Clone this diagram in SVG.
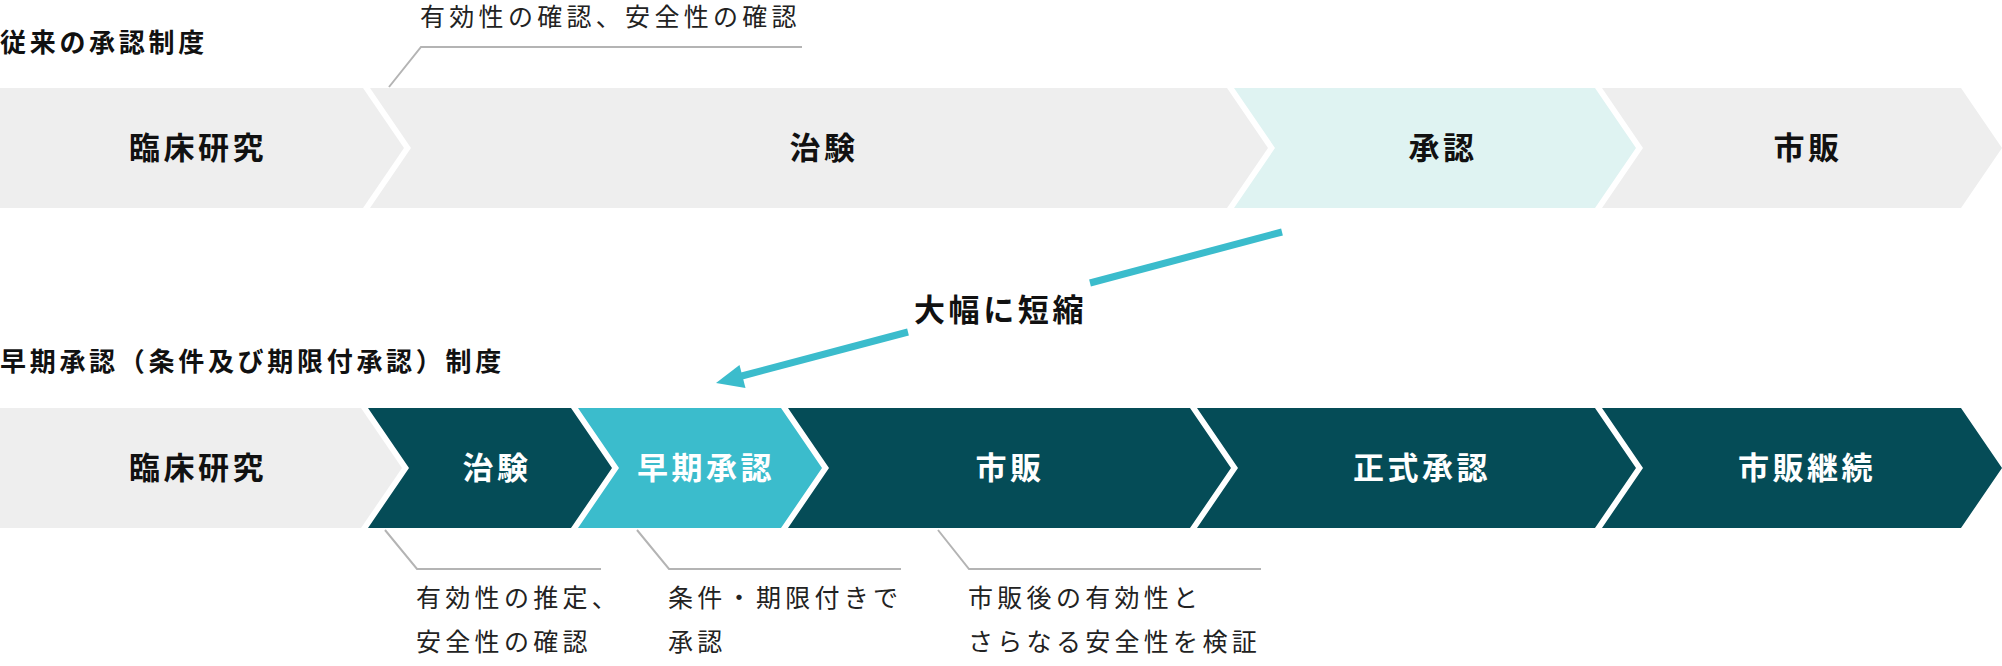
<svg xmlns="http://www.w3.org/2000/svg" width="2002" height="666" viewBox="0 0 2002 666">
<style>
.gray{fill:#eeeeee}
.lteal{fill:#dff3f2}
.dark{fill:#054c57}
.bright{fill:#3bbccc}
.lbl{font-family:"Noto Sans CJK JP","Noto Sans",sans-serif;font-weight:700;font-size:31px;letter-spacing:3.5px;text-anchor:middle}
.lblk{fill:#111111}
.lblw{fill:#ffffff}
.title{font-family:"Noto Sans CJK JP","Noto Sans",sans-serif;font-weight:700;font-size:26px;letter-spacing:3.7px;fill:#111111}
.note{font-family:"Noto Sans CJK JP","Noto Sans",sans-serif;font-weight:400;font-size:25px;letter-spacing:4.3px;fill:#222222}
.lead{fill:none;stroke:#b4b4b4;stroke-width:2}
.arrow{fill:none;stroke:#3bbccc;stroke-width:7}
.big{font-family:"Noto Sans CJK JP","Noto Sans",sans-serif;font-weight:700;font-size:31px;letter-spacing:3.6px;fill:#111111}
</style>
<rect width="2002" height="666" fill="#ffffff"/>

<g id="title-conventional"><text class="title" x="0" y="52">従来の承認制度</text></g>
<g id="title-early"><text class="title" x="0" y="371">早期承認（条件及び期限付承認）制度</text></g>

<g id="top-clinical"><polygon class="gray" points="0,88 363,88 404,148 363,208 0,208"/><text class="lbl lblk" x="198" y="159">臨床研究</text></g>
<g id="top-trial"><polygon class="gray" points="370,88 1227,88 1268,148 1227,208 370,208 411,148"/><text class="lbl lblk" x="824" y="159">治験</text></g>
<g id="top-approval"><polygon class="lteal" points="1234,88 1595,88 1636,148 1595,208 1234,208 1275,148"/><text class="lbl lblk" x="1443" y="159">承認</text></g>
<g id="top-market"><polygon class="gray" points="1602,88 1961,88 2002,148 1961,208 1602,208 1643,148"/><text class="lbl lblk" x="1808" y="159">市販</text></g>

<g id="bot-clinical"><polygon class="gray" points="0,408 361,408 402,468 361,528 0,528"/><text class="lbl lblk" x="198" y="479">臨床研究</text></g>
<g id="bot-trial"><polygon class="dark" points="368,408 571,408 612,468 571,528 368,528 409,468"/><text class="lbl lblw" x="497" y="479">治験</text></g>
<g id="bot-early"><polygon class="bright" points="578,408 781,408 822,468 781,528 578,528 619,468"/><text class="lbl lblw" x="706" y="479">早期承認</text></g>
<g id="bot-market"><polygon class="dark" points="788,408 1190,408 1231,468 1190,528 788,528 829,468"/><text class="lbl lblw" x="1010" y="479">市販</text></g>
<g id="bot-formal"><polygon class="dark" points="1197,408 1595,408 1636,468 1595,528 1197,528 1238,468"/><text class="lbl lblw" x="1422" y="479">正式承認</text></g>
<g id="bot-continue"><polygon class="dark" points="1602,408 1961,408 2002,468 1961,528 1602,528 1643,468"/><text class="lbl lblw" x="1807" y="479">市販継続</text></g>

<g id="note-top"><text class="note" x="420" y="26">有効性の確認、安全性の確認</text></g>
<g id="note-trial"><text class="note" x="416" y="607">有効性の推定、</text><text class="note" x="416" y="651">安全性の確認</text></g>
<g id="note-early"><text class="note" x="668" y="607">条件・期限付きで</text><text class="note" x="668" y="651">承認</text></g>
<g id="note-market"><text class="note" x="968" y="607">市販後の有効性と</text><text class="note" x="968" y="651">さらなる安全性を検証</text></g>

<g id="label-shorten"><text class="big" x="914" y="321">大幅に短縮</text></g>

<g id="connectors">
<polyline class="lead" points="389,87 421,47 802,47"/>
<polyline class="lead" points="385,530 417,569 601,569"/>
<polyline class="lead" points="637,530 669,569 901,569"/>
<polyline class="lead" points="938,530 969,569 1261,569"/>
<line class="arrow" x1="1282" y1="232" x2="1090" y2="283"/>
<line class="arrow" x1="908" y1="332" x2="738" y2="377"/>
<polygon fill="#3bbccc" points="716,383 739.5,365 745.5,388"/>
</g>
</svg>
